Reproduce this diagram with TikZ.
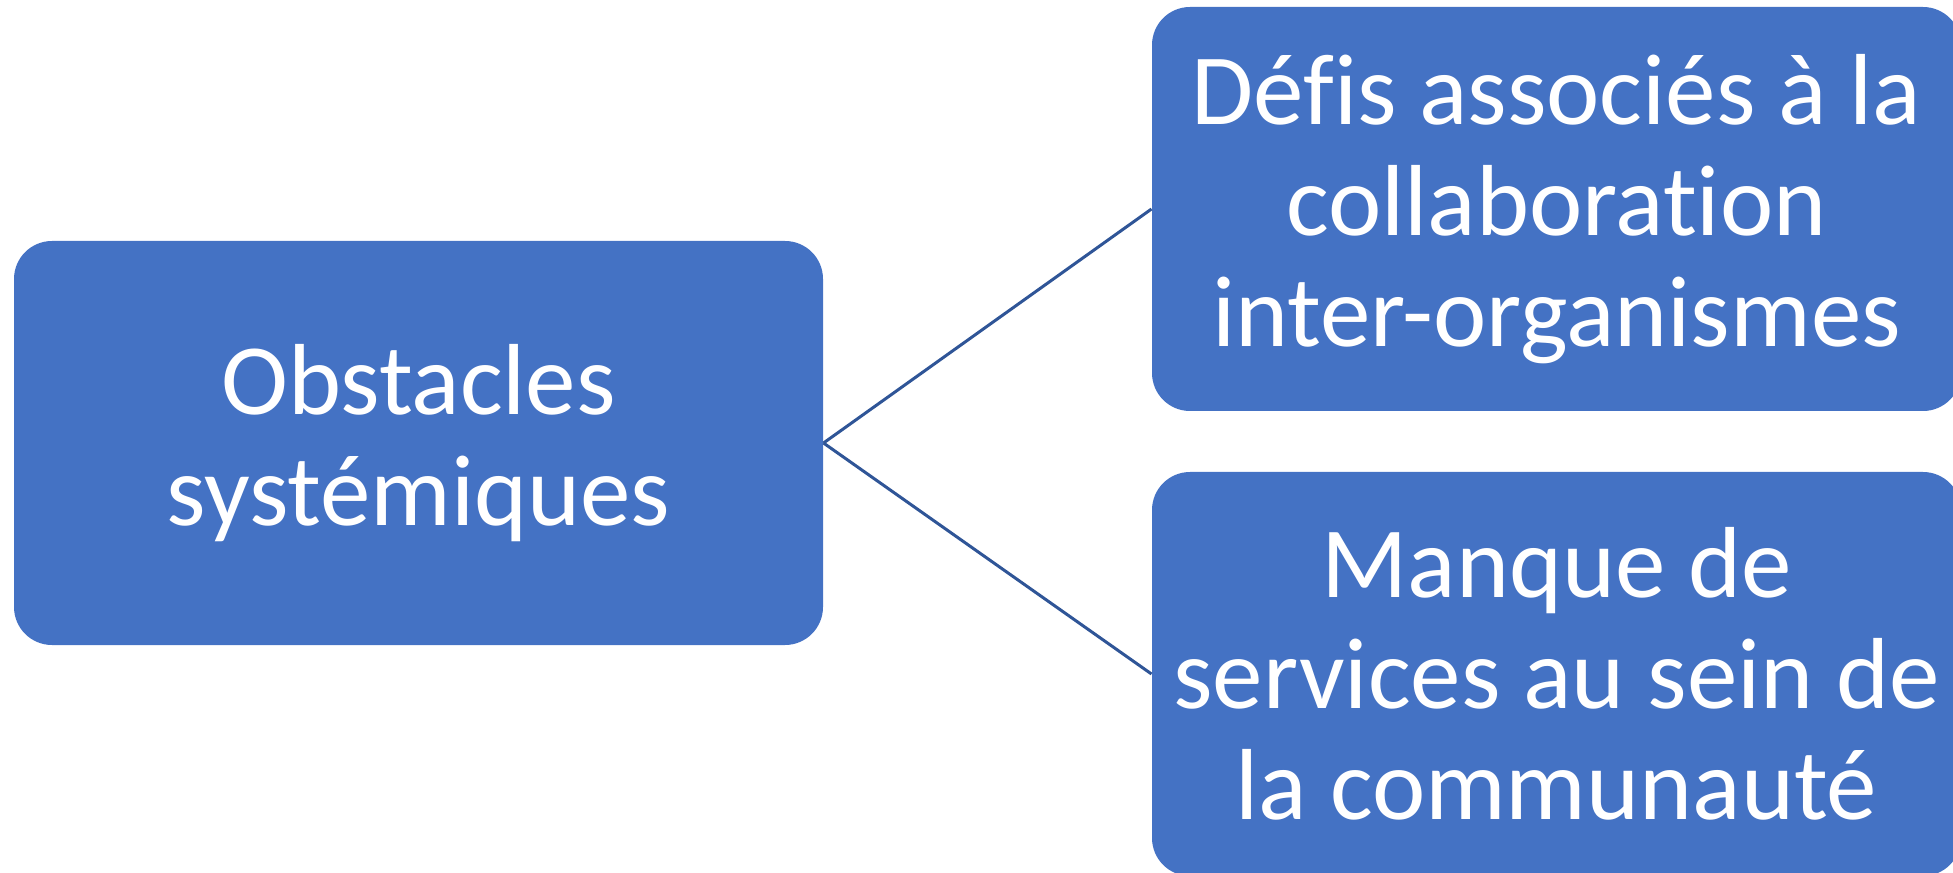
\documentclass[tikz,border=0pt]{standalone}
\usepackage{fontspec}
\setmainfont{Carlito}[Ligatures=CommonOff]
\usetikzlibrary{positioning}

\tikzset{every picture/.style={line width=0.75pt}}
\tikzset{
	blocbox/.style={fill={rgb, 255:red, 68; green, 114; blue, 196 }, rounded corners=28.5pt,
		minimum width=606.75pt, minimum height=303pt, inner sep=0pt,
		text=white, align=center, font=\fontsize{75.75pt}{83.25pt}\selectfont},
	liaison/.style={draw={rgb, 255:red, 47; green, 85; blue, 151 }, line width=2.25pt}}

\begin{document}
\begin{tikzpicture}[x=0.75pt,y=0.75pt,yscale=-1,xscale=1]
	\useasboundingbox (0,0) rectangle (1953,873);

	%Shape: Rounded Rect [id:obstacles]
	\node [blocbox] (obstacles) at (418.5,443) {Obstacles\\systémiques};
	%Shape: Rounded Rect [id:defis]
	\node [blocbox] (defis) at (1556.5,209) {Défis associés à la\\collaboration\\inter-organismes};
	%Shape: Rounded Rect [id:manque]
	\node [blocbox] (manque) at (1556.5,674) {Manque de\\services au sein de\\la communauté};

	%Straight Lines [id:obstacles-defis]
	\draw [liaison] (obstacles.east) -- (defis.west) ;
	%Straight Lines [id:obstacles-manque]
	\draw [liaison] (obstacles.east) -- (manque.west) ;

\end{tikzpicture}
\end{document}
